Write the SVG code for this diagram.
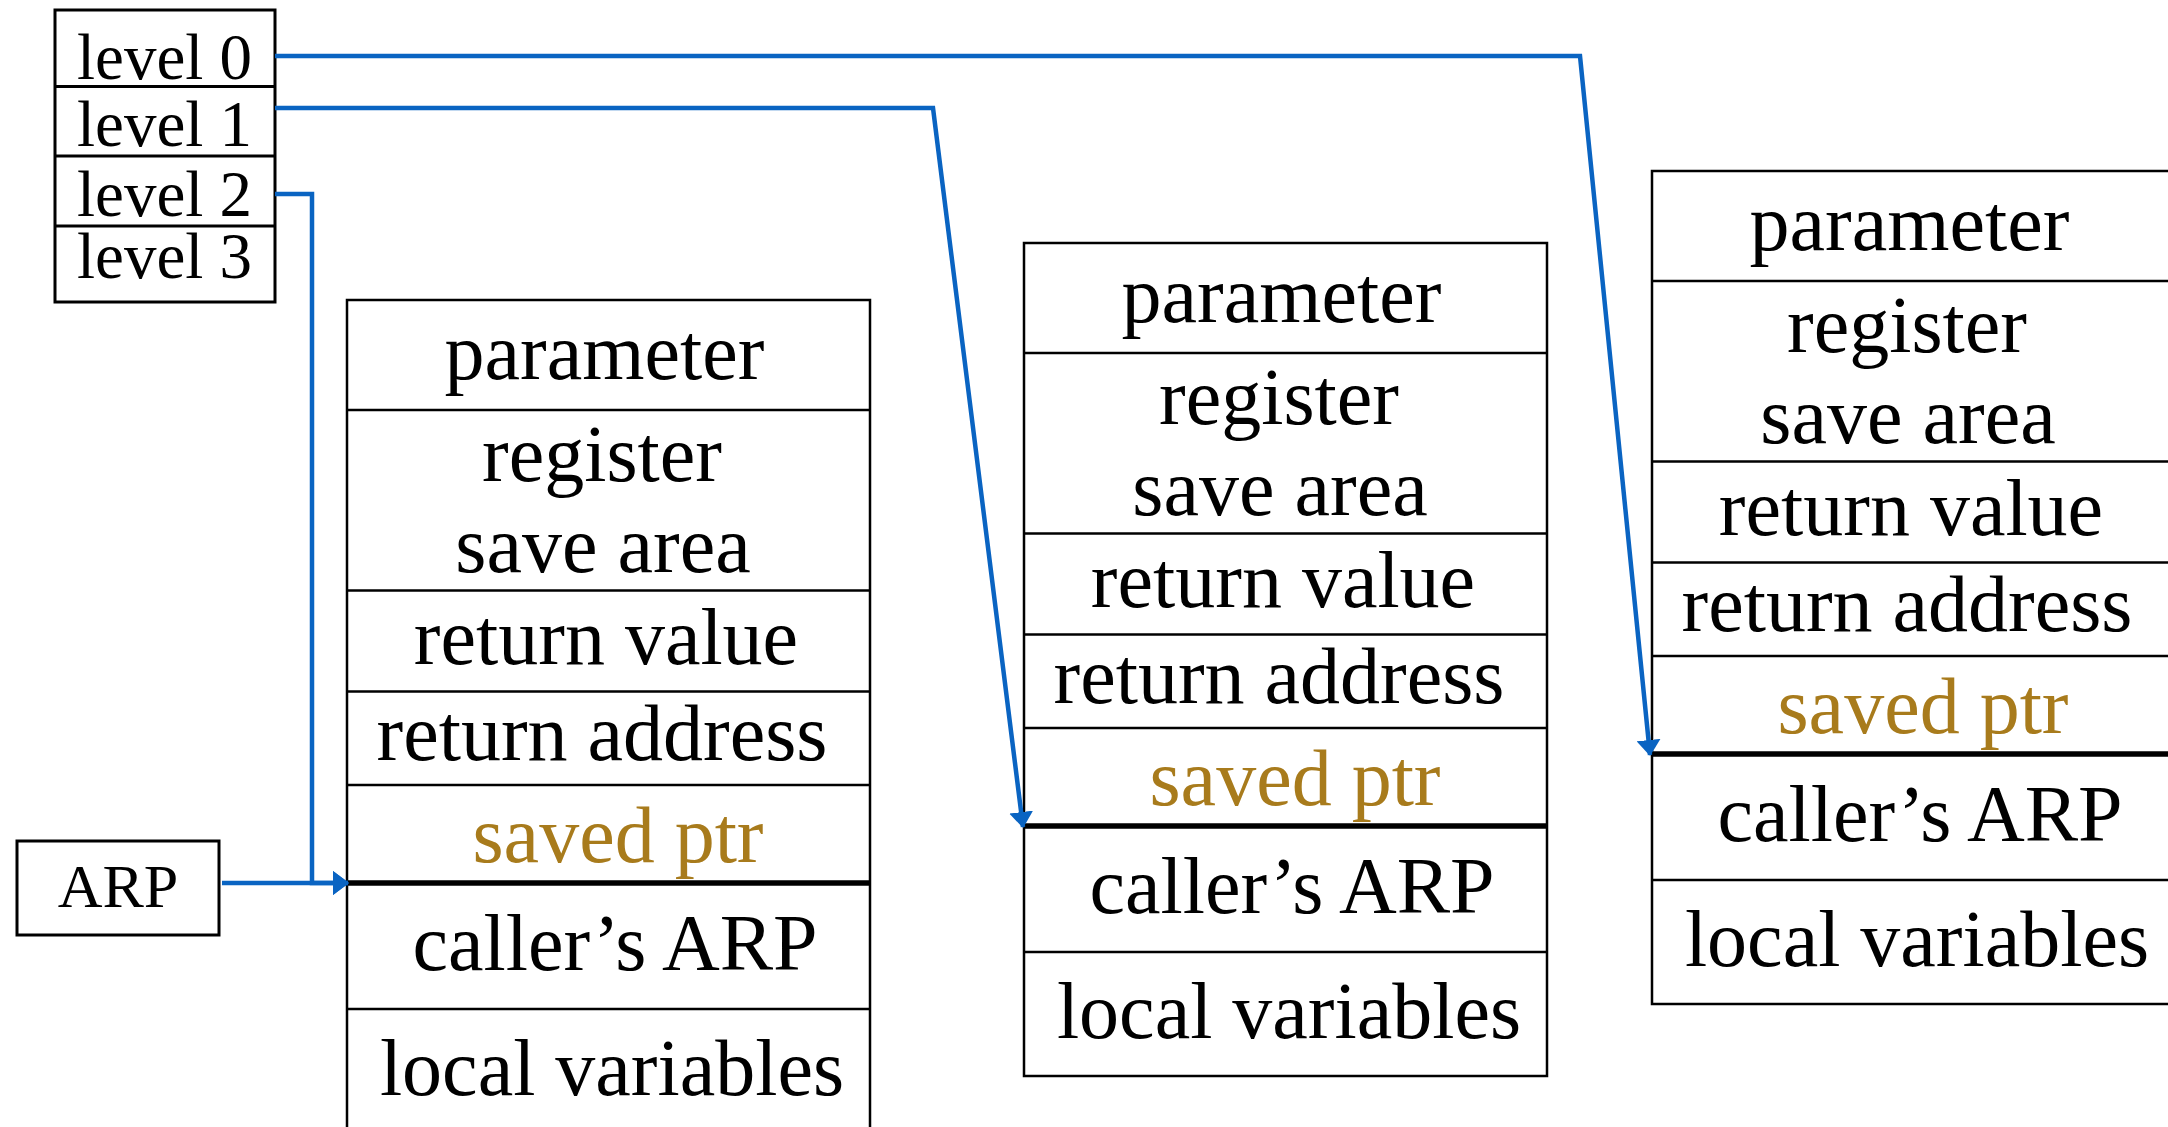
<svg xmlns="http://www.w3.org/2000/svg" width="2168" height="1127" viewBox="0 0 2168 1127">
<style>
.t{font-family:"Liberation Serif","Times New Roman",serif;fill:#000}
.cell{font-size:80px;text-anchor:middle}
.gold{fill:#A87B1C}
.lv{font-size:65px}
.frame{fill:#fff;stroke:#000;stroke-width:2.5}
.div{stroke:#000;stroke-width:2.5}
.thick{stroke:#000;stroke-width:5.5}
.box{fill:#fff;stroke:#000;stroke-width:3}
.conn{fill:none;stroke:#0A64C2;stroke-width:4.5}
</style>
<defs>
<marker id="arr" viewBox="0 0 16 24" refX="15" refY="12" markerWidth="16" markerHeight="24" markerUnits="userSpaceOnUse" orient="auto">
<path d="M0,0 L16,12 L0,24 z" fill="#0A64C2"/>
</marker>
<g id="stack">
<rect class="frame" x="0" y="0" width="523" height="833"/>
<line class="div" x1="0" y1="110" x2="523" y2="110"/>
<line class="div" x1="0" y1="290.5" x2="523" y2="290.5"/>
<line class="div" x1="0" y1="391.5" x2="523" y2="391.5"/>
<line class="div" x1="0" y1="485" x2="523" y2="485"/>
<line class="div" x1="0" y1="709" x2="523" y2="709"/>
<text class="t cell" x="257.5" y="79">parameter</text>
<text class="t cell" x="255" y="181">register</text>
<text class="t cell" x="256" y="272">save area</text>
<text class="t cell" x="259" y="364">return value</text>
<text class="t cell" x="255" y="460">return address</text>
<text class="t cell gold" x="271" y="562">saved ptr</text>
<text class="t cell" x="268" y="670">caller’s ARP</text>
<text class="t cell" x="265" y="795">local variables</text>
<line class="thick" x1="0" y1="583" x2="523" y2="583"/>
</g>
</defs>
<g id="level-table">
<rect class="box" x="55" y="10" width="220" height="292"/>
<line class="div" x1="55" y1="86.5" x2="275" y2="86.5" style="stroke-width:3"/>
<line class="div" x1="55" y1="156" x2="275" y2="156" style="stroke-width:3"/>
<line class="div" x1="55" y1="226" x2="275" y2="226" style="stroke-width:3"/>
<text class="t lv" x="77" y="79">level 0</text>
<text class="t lv" x="77" y="146">level 1</text>
<text class="t lv" x="77" y="216">level 2</text>
<text class="t lv" x="77" y="278">level 3</text>
</g>
<g id="arp-box">
<rect class="box" x="17" y="841" width="202" height="94"/>
<text class="t" x="118" y="907" font-size="62" text-anchor="middle">ARP</text>
</g>
<g id="frame-level2">
<use href="#stack" x="347" y="300"/>
</g>
<g id="frame-level1">
<use href="#stack" x="1024" y="243"/>
</g>
<g id="frame-level0">
<use href="#stack" x="1652" y="171"/>
</g>
<g id="connectors">
<polyline class="conn" points="275,56 1580,56 1650,755" marker-end="url(#arr)"/>
<polyline class="conn" points="275,108 933,108 1023,827" marker-end="url(#arr)"/>
<polyline class="conn" points="275,194 312,194 312,883 348,883" marker-end="url(#arr)"/>
<line class="conn" x1="222" y1="883" x2="348" y2="883" marker-end="url(#arr)"/>
</g>
</svg>
